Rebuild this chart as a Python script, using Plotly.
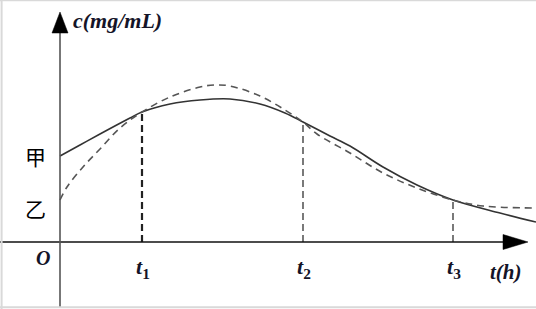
import plotly.graph_objects as go

# 甲 (solid) curve
t_jia = [0, 2, 4, 7, 8.2, 11, 14, 17, 20, 22.5, 24.3, 27, 29, 32.3, 35.7, 39.3, 44, 47.6]
c_jia = [8.6, 9.7, 10.8, 12.4, 13.0, 13.8, 14.2, 14.3, 13.8, 12.9, 12.0, 10.6, 9.6, 7.5, 5.7, 4.2, 2.9, 2.0]

# 乙 (dashed) curve
t_yi = [0, 0.7, 2.3, 4, 6, 8.2, 11, 14, 15.5, 17, 20, 22.5, 24.3, 25.7, 29, 32.3, 35.7, 39.3, 42.3, 47.6]
c_yi = [4.2, 5.5, 7.5, 9.3, 11.4, 13.0, 14.5, 15.5, 15.7, 15.6, 14.6, 13.2, 12.0, 10.8, 8.9, 6.9, 5.4, 4.2, 3.6, 3.4]

# intersection times and levels
t_marks = [8.2, 24.3, 39.3]
c_marks = [13.0, 12.0, 4.2]
t_subs = ["1", "2", "3"]

X_MIN, X_MAX = -6.0, 47.6
Y_MIN, Y_MAX = -6.7, 24.2

fig = go.Figure()

fig.add_trace(go.Scatter(x=t_jia, y=c_jia, mode="lines",
                         line=dict(color="#333333", width=1.6, shape="spline", smoothing=1.0),
                         hoverinfo="skip"))
fig.add_trace(go.Scatter(x=t_yi, y=c_yi, mode="lines",
                         line=dict(color="#555555", width=1.6, shape="spline", smoothing=1.0,
                                   dash="7px,5px"),
                         hoverinfo="skip"))

# vertical dashed drop lines
widths = [2.2, 1.2, 1.2]
for tm, cm, w in zip(t_marks, c_marks, widths):
    fig.add_trace(go.Scatter(x=[tm, tm], y=[0, cm], mode="lines",
                             line=dict(color="#222222", width=w, dash="7px,4px"),
                             hoverinfo="skip"))

shapes = []
# x axis
x_tip, x_base, x_half = 46.8, 44.3, 0.75
shapes.append(dict(type="line", xref="x", yref="y", x0=X_MIN, y0=0, x1=x_base + 0.3, y1=0,
                   line=dict(color="#111111", width=1.6)))
shapes.append(dict(type="path", xref="x", yref="y",
                   path=f"M{x_base},{-x_half} L{x_tip},0 L{x_base},{x_half} Z",
                   fillcolor="#000000", line=dict(color="#000000", width=0.5)))
# y axis
y_tip, y_base, y_half = 23.0, 20.9, 0.8
shapes.append(dict(type="line", xref="x", yref="y", x0=0, y0=-6.5, x1=0, y1=y_base + 0.3,
                   line=dict(color="#555555", width=1.6)))
shapes.append(dict(type="path", xref="x", yref="y",
                   path=f"M{-y_half},{y_base} L0,{y_tip} L{y_half},{y_base} Z",
                   fillcolor="#000000", line=dict(color="#000000", width=0.5)))
# light frame
frame = "#d9d9d9"
shapes.append(dict(type="line", xref="paper", yref="paper", x0=0, y0=0.999, x1=1, y1=0.999,
                   line=dict(color=frame, width=2)))
shapes.append(dict(type="line", xref="paper", yref="paper", x0=0.003, y0=0, x1=0.003, y1=1,
                   line=dict(color=frame, width=2)))
shapes.append(dict(type="line", xref="paper", yref="paper", x0=0, y0=0.006, x1=1, y1=0.006,
                   line=dict(color=frame, width=2)))

serif = "Liberation Serif, Times New Roman, serif"
txt_color = "#141428"
ann = []
ann.append(dict(x=1.1, y=22.2, xref="x", yref="y", xanchor="left", yanchor="middle", showarrow=False,
                text="<b><i>c(mg/mL)</i></b>", font=dict(family=serif, size=22, color=txt_color)))
ann.append(dict(x=-1.7, y=-1.6, xref="x", yref="y", showarrow=False,
                text="<b><i>O</i></b>", font=dict(family=serif, size=20, color=txt_color)))
for tm, sub in zip(t_marks, t_subs):
    ann.append(dict(x=tm + 0.1, y=-2.6, xref="x", yref="y", showarrow=False,
                    text=f"<b><i>t</i><sub>{sub}</sub></b>",
                    font=dict(family=serif, size=22, color=txt_color)))
ann.append(dict(x=44.6, y=-3.0, xref="x", yref="y", showarrow=False,
                text="<b><i>t(h)</i></b>", font=dict(family=serif, size=21, color=txt_color)))
cjk = "Noto Sans CJK SC"
ann.append(dict(x=-2.5, y=8.6, xref="x", yref="y", showarrow=False,
                text="甲", font=dict(family=cjk, size=21, color="#000000")))
ann.append(dict(x=-2.5, y=3.4, xref="x", yref="y", showarrow=False,
                text="乙", font=dict(family=cjk, size=21, color="#000000")))

fig.update_layout(
    width=536, height=309,
    margin=dict(l=0, r=0, t=0, b=0),
    paper_bgcolor="white", plot_bgcolor="white",
    showlegend=False,
    xaxis=dict(range=[X_MIN, X_MAX], visible=False, fixedrange=True),
    yaxis=dict(range=[Y_MIN, Y_MAX], visible=False, fixedrange=True),
    shapes=shapes,
    annotations=ann,
)

fig.write_html("out.html")
